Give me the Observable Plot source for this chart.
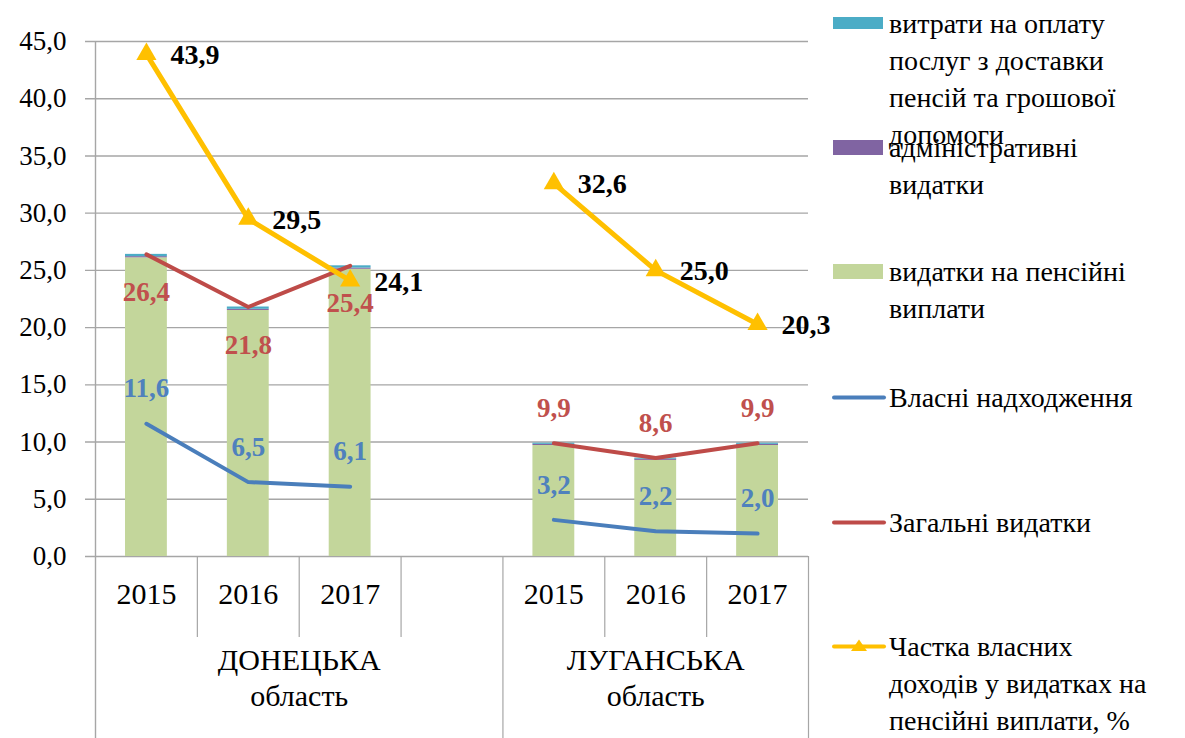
<!DOCTYPE html>
<html><head><meta charset="utf-8">
<script src="https://cdn.jsdelivr.net/npm/d3@7"></script>
<script src="https://cdn.jsdelivr.net/npm/@observablehq/plot@0.6"></script>
<style>
html,body{margin:0;padding:0;background:#fff;}
#wrap, #wrap *{font-family:'Liberation Serif', serif !important;}
#wrap{position:relative;width:1185px;height:738px;overflow:hidden;background:#fff;}
#chart{position:absolute;left:0;top:0;}
.leg{position:absolute;left:832px;width:353px;font-size:28px;line-height:37px;color:#000;}
.leg svg{position:absolute;left:0;top:0;}
.leg .t{position:absolute;left:57px;top:0;white-space:nowrap;}
</style></head><body>
<div id="wrap"><div id="chart"></div><div id="legend"></div></div>
<script>
// ---- data ----
const categoryLabels = ["2015", "2016", "2017", "", "2015", "2016", "2017"];
const categoryRegion = [0, 0, 0, 0, 1, 1, 1];
const regionNames = ["ДОНЕЦЬКА\nобласть", "ЛУГАНСЬКА\nобласть"];
const years = ["2015", "2016", "2017"];
const pensionPayments = [[26.1, 21.5, 25.1], [9.7, 8.4, 9.7]];
const adminCosts = [[0.1, 0.1, 0.1], [0.1, 0.1, 0.1]];
const deliveryCosts = [[0.2, 0.2, 0.2], [0.1, 0.1, 0.1]];
const ownRevenue = [[11.6, 6.5, 6.1], [3.2, 2.2, 2.0]];
const totalExpenses = [[26.4, 21.8, 25.4], [9.9, 8.6, 9.9]];
const ownShare = [[43.9, 29.5, 24.1], [32.6, 25.0, 20.3]];
const yTicks = [0, 5, 10, 15, 20, 25, 30, 35, 40, 45];
const legendLabels = [
  "витрати на оплату\nпослуг з доставки\nпенсій та грошової\nдопомоги",
  "адміністративні\nвидатки",
  "видатки на пенсійні\nвиплати",
  "Власні надходження",
  "Загальні видатки",
  "Частка власних\nдоходів у видатках на\nпенсійні виплати, %"
];

// ---- styles ----
const C = {pension: "#C3D69B", admin: "#8064A2", delivery: "#4BACC6",
  own: "#4A7EBB", ownLabel: "#4F81BD", total: "#BE4B48", totalLabel: "#C0504D", share: "#FFC000", grid: "#A6A6A6"};
const FONT = "Liberation Serif";

// ---- derived tables ----
const regionStart = regionNames.map((_, r) => categoryRegion.indexOf(r));
const pts = [];
regionNames.forEach((_, r) => years.forEach((y, j) => {
  pts.push({region: r, slot: regionStart[r] + j + 0.5,
    own: ownRevenue[r][j], total: totalExpenses[r][j], share: ownShare[r][j]});
}));
const bars = [];
regionNames.forEach((_, r) => years.forEach((y, j) => {
  let lo = 0;
  [["pension", pensionPayments], ["admin", adminCosts], ["delivery", deliveryCosts]].forEach(([k, arr]) => {
    const v = arr[r][j];
    bars.push({x1: regionStart[r] + j, x2: regionStart[r] + j + 1, y1: lo, y2: lo + v, k});
    lo += v;
  });
}));
const boundaries = d3.range(categoryLabels.length + 1);
const longBounds = boundaries.filter(b => b === 0 || b === categoryLabels.length || (categoryRegion[b] !== categoryRegion[b - 1]));
const shortBounds = boundaries.filter(b => !longBounds.includes(b));
const slots = categoryLabels.map((label, i) => ({label, x: i + 0.5}));
const regionLabels = regionNames.map((name, r) => {
  const idx = categoryRegion.map((c, i) => c === r ? i : -1).filter(i => i >= 0);
  return {name, x: (idx[0] + idx[idx.length - 1] + 1) / 2};
});
const fmt = v => v.toFixed(1).replace(".", ",");

const W = 830, H = 738, mt = 41, mb = 182;
const inner = H - mt - mb;

const chart = Plot.plot({
  width: W, height: H, marginLeft: 95, marginRight: 22, marginTop: mt, marginBottom: mb,
  x: {type: "linear", domain: [0, categoryLabels.length], axis: null},
  y: {domain: [0, 45], axis: null},
  style: {fontFamily: FONT, fontSize: "27px", color: "#000", background: "#fff", overflow: "visible"},
  marks: [
    Plot.ruleY(yTicks, {stroke: C.grid, strokeWidth: 1.4, insetLeft: -10}),
    Plot.ruleX([0], {stroke: C.grid, strokeWidth: 1.4, insetBottom: -mb}),
    Plot.ruleX(longBounds.filter(b => b !== 0), {stroke: C.grid, strokeWidth: 1.2, insetTop: inner, insetBottom: -mb}),
    Plot.ruleX(shortBounds, {stroke: C.grid, strokeWidth: 1.2, insetTop: inner, insetBottom: -81}),
    Plot.axisY(yTicks, {tickSize: 0, tickPadding: 29, tickFormat: fmt, fontSize: 27, fill: "#000"}),
    Plot.rect(bars, {x1: "x1", x2: "x2", y1: "y1", y2: "y2", fill: d => C[d.k], insetLeft: 30, insetRight: 30}),
    Plot.line(pts, {x: "slot", y: "total", z: "region", stroke: C.total, strokeWidth: 4, strokeLinecap: "round"}),
    Plot.line(pts, {x: "slot", y: "own", z: "region", stroke: C.own, strokeWidth: 4, strokeLinecap: "round"}),
    Plot.line(pts, {x: "slot", y: "share", z: "region", stroke: C.share, strokeWidth: 5}),
    Plot.dot(pts, {x: "slot", y: "share", symbol: "triangle", r: 7.5, fill: C.share, stroke: null}),
    Plot.text(pts, {x: "slot", y: "share", text: d => fmt(d.share), textAnchor: "start", dx: 24, dy: 1, fontWeight: "bold", fontSize: 28, fill: "#000"}),
    Plot.text(pts.filter(d => d.region === 0), {x: "slot", y: "total", text: d => fmt(d.total), dy: 38, fontWeight: "bold", fontSize: 27, fill: C.totalLabel}),
    Plot.text(pts.filter(d => d.region === 1), {x: "slot", y: "total", text: d => fmt(d.total), dy: -35, fontWeight: "bold", fontSize: 27, fill: C.totalLabel}),
    Plot.text(pts, {x: "slot", y: "own", text: d => fmt(d.own), dy: -35, fontWeight: "bold", fontSize: 27, fill: C.ownLabel}),
    Plot.text(slots, {x: "x", text: "label", frameAnchor: "bottom", dy: 47, fontSize: 30, fill: "#000"}),
    Plot.text(regionLabels, {x: "x", text: "name", frameAnchor: "bottom", dy: 149, fontSize: 30, lineHeight: 1.17, fill: "#000"})
  ]
});
chart.setAttribute("font-family", FONT);
document.getElementById("chart").appendChild(chart);

// ---- legend ----
const legendTops = [5, 129, 253, 379, 504, 628];
const swatch = [
  `<rect x="1" y="12" width="50" height="12" fill="${C.delivery}"/>`,
  `<rect x="1" y="11" width="50" height="15" fill="${C.admin}"/>`,
  `<rect x="1" y="11" width="50" height="15" fill="${C.pension}"/>`,
  `<line x1="2" y1="18.5" x2="52" y2="18.5" stroke="${C.own}" stroke-width="4" stroke-linecap="round"/>`,
  `<line x1="2" y1="18.5" x2="52" y2="18.5" stroke="${C.total}" stroke-width="4" stroke-linecap="round"/>`,
  `<line x1="2" y1="18.5" x2="52" y2="18.5" stroke="${C.share}" stroke-width="4" stroke-linecap="round"/><path d="M27,11.5L35,23L19,23Z" fill="${C.share}"/>`
];
const leg = document.getElementById("legend");
legendLabels.forEach((lab, i) => {
  const d = document.createElement("div");
  d.className = "leg";
  d.style.top = legendTops[i] + "px";
  d.innerHTML = `<svg width="56" height="37">${swatch[i]}</svg><div class="t">${lab.split("\n").join("<br>")}</div>`;
  leg.appendChild(d);
});
document.querySelectorAll("#wrap *").forEach(el => el.style.setProperty("font-family", "Liberation Serif", "important"));
</script>
</body></html>
